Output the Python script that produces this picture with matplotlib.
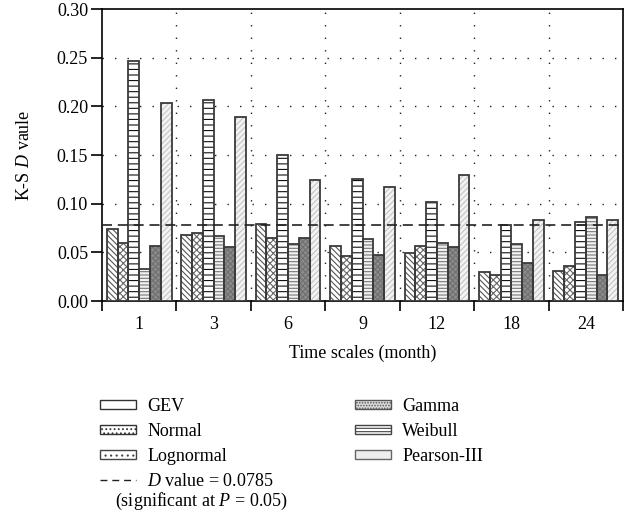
import matplotlib
matplotlib.use("Agg")
import matplotlib.pyplot as plt
import numpy as np
from matplotlib.patches import Patch
from matplotlib.lines import Line2D

plt.rcParams["font.family"] = ["Liberation Serif", "DejaVu Serif"]
plt.rcParams["mathtext.fontset"] = "custom"
plt.rcParams["mathtext.rm"] = "Liberation Serif"
plt.rcParams["mathtext.it"] = "Liberation Serif:italic"
plt.rcParams["hatch.linewidth"] = 0.8

# Time scales (months) and K-S D statistics per distribution
time_scales = ["1", "3", "6", "9", "12", "18", "24"]
gev = [0.074, 0.068, 0.079, 0.056, 0.049, 0.030, 0.031]
normal = [0.060, 0.070, 0.065, 0.046, 0.056, 0.027, 0.036]
lognormal = [0.247, 0.207, 0.150, 0.125, 0.102, 0.078, 0.081]
gamma = [0.033, 0.067, 0.059, 0.064, 0.060, 0.059, 0.086]
weibull = [0.056, 0.055, 0.065, 0.047, 0.055, 0.039, 0.027]
pearson3 = [0.203, 0.189, 0.124, 0.117, 0.129, 0.083, 0.083]
d_critical = 0.0785

series = [gev, normal, lognormal, gamma, weibull, pearson3]
labels = ["GEV", "Normal", "Lognormal", "Gamma", "Weibull", "Pearson-III"]

FS = 13
W, H = 636, 523

# fill colour, hatch pattern, hatch colour for each series of bars
bar_styles = [
    ("white", "\\\\\\\\\\\\", "#555555"),
    ("white", "xxxxx", "#666666"),
    ("white", "---", "#111111"),
    ("#f2f2f2", "-----", "#777777"),
    ("#8c8c8c", "xxxxxx", "#707070"),
    ("#f3f3f3", "//////", "#c4c4c4"),
]

fig = plt.figure(figsize=(W / 100, H / 100), dpi=100)
ax = fig.add_axes([102 / W, 1 - 301 / H, 521 / W, 292 / H])

x = np.arange(len(time_scales))
width = 0.145
for j, (vals, (fc, hatch, hc)) in enumerate(zip(series, bar_styles)):
    pos = x + (j - 2.5) * width
    ax.bar(pos, vals, width, color=fc, hatch=hatch, edgecolor=hc,
           linewidth=0, zorder=3)
    ax.bar(pos, vals, width, fill=False, edgecolor="#3a3a3a",
           linewidth=1.3, zorder=4)

ax.axhline(d_critical, color="#222222", linestyle=(0, (6, 3.5)),
           linewidth=1.2, zorder=5)

ax.set_xlim(-0.5, len(time_scales) - 0.5)
ax.set_ylim(0, 0.30)

bounds = np.arange(-0.5, len(time_scales), 1.0)
ax.set_xticks(bounds)
ax.set_xticklabels([""] * len(bounds))
ax.set_xticks(x, minor=True)
ax.set_xticklabels(time_scales, minor=True)
ax.tick_params(axis="x", which="major", direction="out", length=7, width=1.2)
ax.tick_params(axis="x", which="minor", length=0, pad=11, labelsize=FS)

yt = np.arange(0, 0.301, 0.05)
ax.set_yticks(yt)
ax.set_yticklabels([f"{v:.2f}" for v in yt])
ax.tick_params(axis="y", direction="out", length=8, width=1.2, pad=2,
               labelsize=FS)

for s in ax.spines.values():
    s.set_linewidth(1.2)

dots = (0, (1, 8))
for b in bounds[1:-1]:
    ax.axvline(b, color="#222222", linestyle=dots, linewidth=1.0, zorder=1)
for v in yt[1:-1]:
    ax.axhline(v, color="#222222", linestyle=dots, linewidth=1.0, zorder=1)

ax.set_xlabel("Time scales (month)", fontsize=FS, labelpad=8)
ax.set_ylabel("K-S $D$ vaule", fontsize=FS, labelpad=17)

legend_kw = dict(loc="upper left", frameon=False, fontsize=FS,
                 handlelength=2.0, handleheight=0.45, handletextpad=0.62,
                 labelspacing=0.44, borderaxespad=0, borderpad=0)

left_handles = [
    Patch(facecolor="white", edgecolor="#333333", linewidth=1.0),
    Patch(facecolor="white", edgecolor="#333333", hatch="....", linewidth=1.0),
    Patch(facecolor="white", edgecolor="#444444", hatch="...", linewidth=1.0),
    Line2D([], [], color="#222222", linestyle=(0, (5, 3.5)), linewidth=1.0),
]
left_labels = labels[:3] + [f"$D$ value = {d_critical}"]
fig.legend(left_handles, left_labels,
           bbox_to_anchor=(100 / W, 1 - 398 / H), **legend_kw)

right_handles = [
    Patch(facecolor="#dddddd", edgecolor="#555555", hatch="......", linewidth=1.0),
    Patch(facecolor="white", edgecolor="#444444", hatch="-----", linewidth=1.0),
    Patch(facecolor="#eeeeee", edgecolor="#666666", linewidth=1.0),
]
fig.legend(right_handles, labels[3:],
           bbox_to_anchor=(355 / W, 1 - 398 / H), **legend_kw)

fig.text(115 / W, 1 - 501 / H, "(significant at $P$ = 0.05)",
         fontsize=FS, ha="left", va="center")

fig.savefig("out.png", dpi=100)
